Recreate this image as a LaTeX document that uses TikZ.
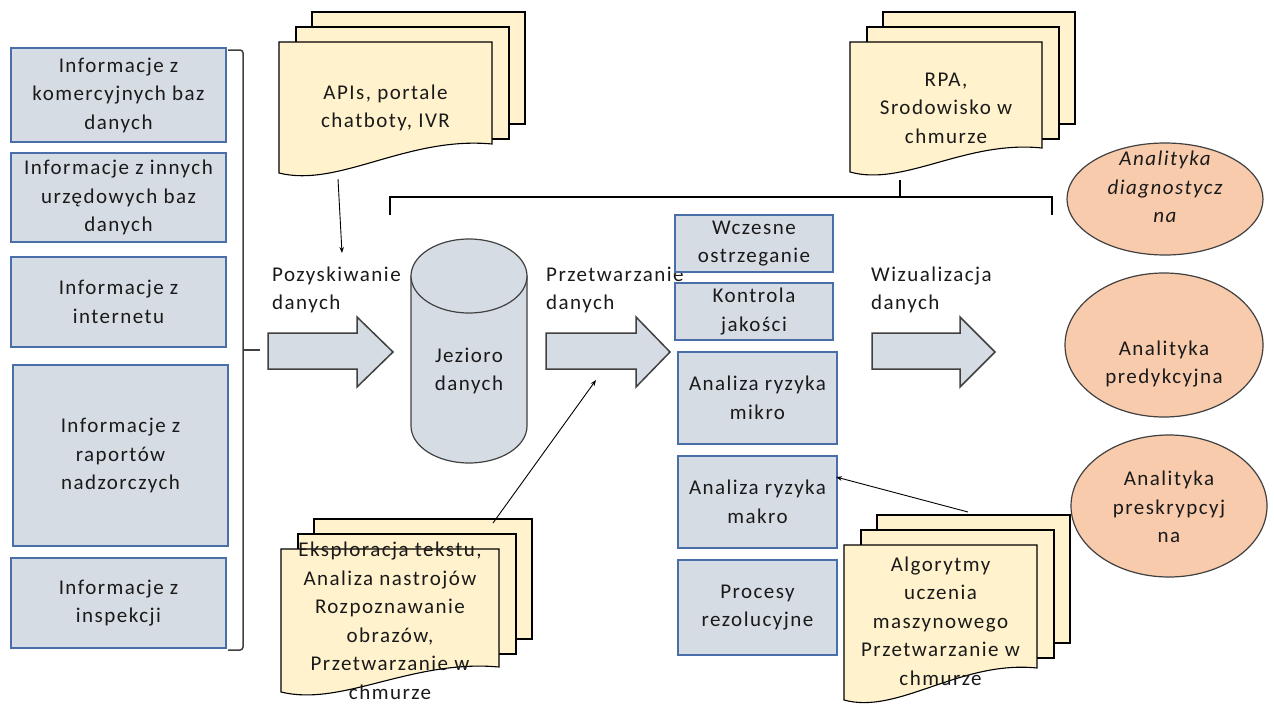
\documentclass[tikz,border=0pt]{standalone}
\usepackage{fontspec}
\setmainfont{Carlito}[LetterSpace=7]
\usetikzlibrary{shapes.geometric,arrows.meta}
\definecolor{boxfill}{HTML}{D6DCE4}
\definecolor{boxdraw}{HTML}{4A6EA8}
\definecolor{docfill}{HTML}{FFF2CC}
\definecolor{ellfill}{HTML}{F8CBAD}
\definecolor{darkline}{HTML}{404040}
\definecolor{txtcol}{HTML}{1A1A1A}
\newcommand{\fs}{\fontsize{21}{28.5}\selectfont}
\tikzset{
  infobox/.style={draw=boxdraw, fill=boxfill, line width=1.2pt, align=center, inner sep=1pt, font=\fs, text=txtcol},
  lbl/.style={align=left, inner sep=0pt, font=\fs, text=txtcol},
  ctext/.style={align=center, inner sep=0pt, font=\fs, text=txtcol},
  ell/.style={ellipse, draw=darkline, fill=ellfill, line width=1.2pt, inner sep=0pt},
  docshape/.style={draw=black, fill=docfill, line width=1.1pt},
  blockarr/.style={draw=darkline, fill=boxfill, line width=1.5pt, line join=miter},
  cyl/.style={draw=darkline, fill=boxfill, line width=1.2pt},
  bline/.style={draw=black, line width=1.1pt},
  bracel/.style={draw=darkline, line width=1.5pt, rounded corners=3pt},
  conn/.style={draw=black, line width=0.9pt, -{Stealth[length=6pt,width=4.5pt]}},
}
% #1 name, #2 x, #3 y (front top-left), #4 width, #5 front left height, #6 front right height, #7 back height, #8 text centre y, #9 text
\newcommand{\docstack}[9]{%
  \draw[docshape] ({#2+33},{#3-30}) rectangle ({#2+33+#4},{#3-30+#7});
  \draw[docshape] ({#2+17},{#3-15}) rectangle ({#2+17+#4},{#3-15+#7});
  \draw[docshape] (#2,#3) -- (#2,{#3+#5}) .. controls ({#2+0.28*#4},{#3+#5+15}) and ({#2+0.6*#4},{#3+#6-8}) .. ({#2+#4},{#3+#6}) -- ({#2+#4},#3) -- cycle;
  \node[ctext] (#1) at ({#2+#4/2},#8) {#9};
}
% #1 left x, #2 head start x, #3 tip x
\newcommand{\blockarrow}[3]{%
  \draw[blockarr] (#1,333) -- (#2,333) -- (#2,317) -- (#3,352) -- (#2,387) -- (#2,369) -- (#1,369) -- cycle;
}
\begin{document}
\begin{tikzpicture}[x=1pt,y=-1pt]
\fill[white] (0,0) rectangle (1274,704);
\useasboundingbox (0,0) rectangle (1274,704);

% left source boxes
\node[infobox, minimum width=215pt, minimum height=94pt] (b1) at (118.5,95) {Informacje z\\komercyjnych baz\\danych};
\node[infobox, minimum width=215pt, minimum height=89pt] (b2) at (118.5,197.5) {Informacje z innych\\urzędowych baz\\danych};
\node[infobox, minimum width=215pt, minimum height=90pt] (b3) at (118.5,302) {Informacje z\\internetu};
\node[infobox, minimum width=215pt, minimum height=181pt] (b4) at (120.5,455.5) {Informacje z\\raportów\\nadzorczych};
\node[infobox, minimum width=215pt, minimum height=90pt] (b5) at (118.5,603) {Informacje z\\inspekcji};

% bracket
\draw[bracel] (228,50) -- (243,50) -- (243,650) -- (228,650);
\draw[bracel] (243,350) -- (260,350);

% labels
\node[lbl, anchor=west] (poz) at (272,290) {Pozyskiwanie\\danych};
\node[lbl, anchor=west] (prz) at (546,290) {Przetwarzanie\\danych};
\node[lbl, anchor=west] (wiz) at (871,290) {Wizualizacja\\danych};

% block arrows
\blockarrow{268}{357}{393}
\blockarrow{546}{636}{670}
\blockarrow{872}{960}{995}

% cylinder
\path[cyl] (411,276) -- (411,426) arc[start angle=180, end angle=360, x radius=58pt, y radius=37pt] -- (527,276) -- cycle;
\draw[cyl] (469,276) ellipse [x radius=58pt, y radius=37pt];
\node[ctext] (lake) at (469,371) {Jezioro\\danych};

% middle boxes
\node[infobox, minimum width=158pt, minimum height=57pt] (wcz) at (754,243.5) {Wczesne\\ostrzeganie};
\node[infobox, minimum width=158pt, minimum height=57pt] (kon) at (754,311.5) {Kontrola\\jakości};
\node[infobox, minimum width=159pt, minimum height=92pt] (mik) at (757.5,398) {Analiza ryzyka\\mikro};
\node[infobox, minimum width=159pt, minimum height=92pt] (mak) at (757.5,502) {Analiza ryzyka\\makro};
\node[infobox, minimum width=159pt, minimum height=95pt] (pro) at (757.5,607.5) {Procesy\\rezolucyjne};

% ellipses
\node[ell, minimum width=196pt, minimum height=112pt] (diag) at (1165,199) {};
\node[ctext, font=\fs\itshape] (diagt) at (1165,187) {Analityka\\diagnostycz\\na};
\node[ell, minimum width=198pt, minimum height=144pt] (pred) at (1164,345) {};
\node[ctext] (predt) at (1164,364) {Analityka\\predykcyjna};
\node[ell, minimum width=196pt, minimum height=142pt] (presk) at (1169,506) {};
\node[ctext] (preskt) at (1169,507) {Analityka\\preskrypcyj\\na};

% document stacks
\docstack{apis}{279}{42}{213}{131}{102}{112}{108}{APIs, portale\\chatboty, IVR}
\docstack{rpa}{850}{42}{192}{130}{106}{112}{108}{RPA,\\Srodowisko w\\chmurze}
\docstack{eksp}{281}{549}{218}{143}{118}{120}{621}{Eksploracja tekstu,\\Analiza nastrojów\\Rozpoznawanie\\obrazów,\\Przetwarzanie w\\chmurze}
\docstack{algo}{844}{545}{193}{155}{123}{128}{621}{Algorytmy\\uczenia\\maszynowego\\Przetwarzanie w\\chmurze}

% top bracket from RPA
\coordinate (rpaout) at (900,180);
\coordinate (brmid) at (900,197);
\coordinate (brl) at (390,215);
\coordinate (brr) at (1052,215);
\draw[bline] (rpaout) -- (brmid);
\draw[bline] (brl) -- (390,197) -- (brr |- brmid) -- (brr);

% connectors
\coordinate (apisout) at (338,179);
\coordinate (pozin) at (342,253);
\draw[conn] (apisout) -- (pozin);
\coordinate (eksout) at (493,523);
\coordinate (przin) at (596,380);
\draw[conn] (eksout) -- (przin);
\coordinate (algout) at (968,512);
\coordinate (makin) at (836,477);
\draw[conn] (algout) -- (makin);
\end{tikzpicture}
\end{document}
